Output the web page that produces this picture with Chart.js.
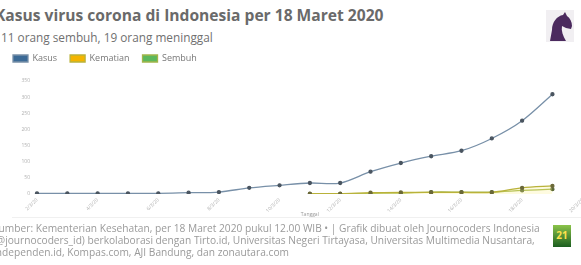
<!DOCTYPE html>
<html>
<head>
<meta charset="utf-8">
<script src="https://cdn.jsdelivr.net/npm/chart.js@4.4.1/dist/chart.umd.min.js"></script>
<style>
  html, body { margin: 0; padding: 0; background: #fff; }
  body { width: 581px; height: 265px; overflow: hidden; position: relative; font-family: "Open Sans", sans-serif; }
  .title { position: absolute; left: -5px; top: 4px; font-size: 15.6px; font-weight: 700; color: #6a6a6a; white-space: nowrap; }
  .subtitle { position: absolute; left: 1px; top: 29px; font-size: 11.8px; color: #707070; white-space: nowrap; }
  .chart-box { position: absolute; left: 0; top: 41px; width: 590px; height: 177px; }
  .source { position: absolute; left: -7px; top: 222px; font-size: 10.2px; line-height: 12px; color: #9a9a9a; white-space: nowrap; }
  .rule { position: absolute; left: 12px; top: 217px; width: 569px; height: 1px; background: #f0f0f0; }
  .logo-top { position: absolute; left: 546px; top: 10px; width: 28px; height: 32px; }
  .logo-bottom { position: absolute; left: 553px; top: 225px; width: 18px; height: 22px; background: linear-gradient(#8bc34a, #1b5e20); color: #ffe14d; font-size: 10px; font-weight: 700; text-align: center; line-height: 20px; }
</style>
</head>
<body>
<div class="title">Kasus virus corona di Indonesia per 18 Maret 2020</div>
<div class="subtitle">11 orang sembuh, 19 orang meninggal</div>
<div class="chart-box"><canvas id="coronaChart"></canvas></div>
<div class="rule"></div>
<div class="source">
  Sumber: Kementerian Kesehatan, per 18 Maret 2020 pukul 12.00 WIB • | Grafik dibuat oleh Journocoders Indonesia<br>
  (@journocoders_id) berkolaborasi dengan Tirto.id, Universitas Negeri Tirtayasa, Universitas Multimedia Nusantara,<br>
  Independen.id, Kompas.com, AJI Bandung, dan zonautara.com
</div>
<svg class="logo-top" viewBox="0 0 28 32">
  <rect x="0" y="0" width="28" height="32" fill="#f1eff2"/>
  <path d="M4 31 L6 20 C6 12 11 6 17 5 L19 2 L21 6 C24 8 26 12 26 16 L25 19 L20 18 L16 16 C15 21 17 26 20 31 Z" fill="#4b2a5e"/>
</svg>
<div class="logo-bottom">21</div>

<script>
  // Data
  const dates = [
    "2/3/20", "3/3/20", "4/3/20", "5/3/20", "6/3/20", "7/3/20", "8/3/20",
    "9/3/20", "10/3/20", "11/3/20", "12/3/20", "13/3/20", "14/3/20", "15/3/20",
    "16/3/20", "17/3/20", "18/3/20", "19/3/20", "20/3/20"
  ];
  const kasus = [2, 2, 2, 2, 2, 4, 6, 19, 27, 34, 34, 69, 96, 117, 134, 172, 227, 309, null];
  const kematian = [null, null, null, null, null, null, null, null, null, 1, 1, 4, 5, 5, 5, 5, 19, 25, null];
  const sembuh = [null, null, null, null, null, null, null, null, null, 0, 0, 2, 3, 6, 6, 6, 11, 15, null];
  const yTicks = [0, 50, 100, 150, 200, 250, 300, 350];

  // Push the plot down a little below the legend
  const legendSpacer = {
    id: "legendSpacer",
    beforeInit(chart) {
      const fit = chart.legend.fit;
      chart.legend.fit = function () {
        fit.bind(chart.legend)();
        this.height += 8;
      };
    },
  };

  const ctx = document.getElementById("coronaChart").getContext("2d");
  new Chart(ctx, {
    type: "line",
    data: {
      labels: dates,
      datasets: [
        {
          label: "Kasus",
          data: kasus,
          borderColor: "#7890a8",
          backgroundColor: "#3b6a96",
          borderWidth: 1.3,
          pointRadius: 1.5,
          pointBackgroundColor: "#4a5560",
          pointBorderColor: "#4a5560",
          tension: 0.3,
        },
        {
          label: "Kematian",
          data: kematian,
          borderColor: "#b9b23a",
          backgroundColor: "#f4b400",
          borderWidth: 1.3,
          pointRadius: 1.5,
          pointBackgroundColor: "#6a6838",
          pointBorderColor: "#6a6838",
          tension: 0.3,
          fill: { target: "origin", above: "rgba(250, 238, 130, 0.25)" },
        },
        {
          label: "Sembuh",
          data: sembuh,
          borderColor: "#a3b54a",
          backgroundColor: "#5cb85c",
          borderWidth: 1.3,
          pointRadius: 1.5,
          pointBackgroundColor: "#5a6838",
          pointBorderColor: "#5a6838",
          tension: 0.3,
        },
      ],
    },
    options: {
      responsive: true,
      maintainAspectRatio: false,
      animation: false,
      layout: { padding: { left: 0, right: 7, top: 0, bottom: 0 } },
      plugins: {
        legend: {
          position: "top",
          align: "start",
          labels: {
            boxWidth: 15,
            boxHeight: 7,
            padding: 13,
            color: "#777",
            font: { family: "Open Sans", size: 9 },
          },
        },
        tooltip: { enabled: false },
      },
      scales: {
        x: {
          afterFit: (scale) => {
            scale.height = 24;
          },
          grid: { display: false, drawTicks: false },
          border: { display: false },
          ticks: {
            autoSkip: false,
            minRotation: 45,
            maxRotation: 45,
            padding: 3,
            color: "#b0b0b0",
            font: { family: "Open Sans", size: 5 },
            callback: function (value, index) {
              return index % 2 === 0 ? dates[index] : "";
            },
          },
          title: {
            display: true,
            text: "Tanggal",
            color: "#999",
            padding: 0,
            font: { family: "Open Sans", size: 5 },
          },
        },
        y: {
          min: yTicks[0],
          max: yTicks[yTicks.length - 1],
          afterBuildTicks: (scale) => {
            scale.ticks = yTicks.map((v) => ({ value: v }));
          },
          afterFit: (scale) => {
            scale.width = 37;
          },
          grid: { display: false, drawTicks: false },
          border: { display: false },
          ticks: {
            color: "#b0b0b0",
            padding: 7,
            font: { family: "Open Sans", size: 5 },
          },
        },
      },
    },
    plugins: [legendSpacer],
  });
</script>
</body>
</html>
